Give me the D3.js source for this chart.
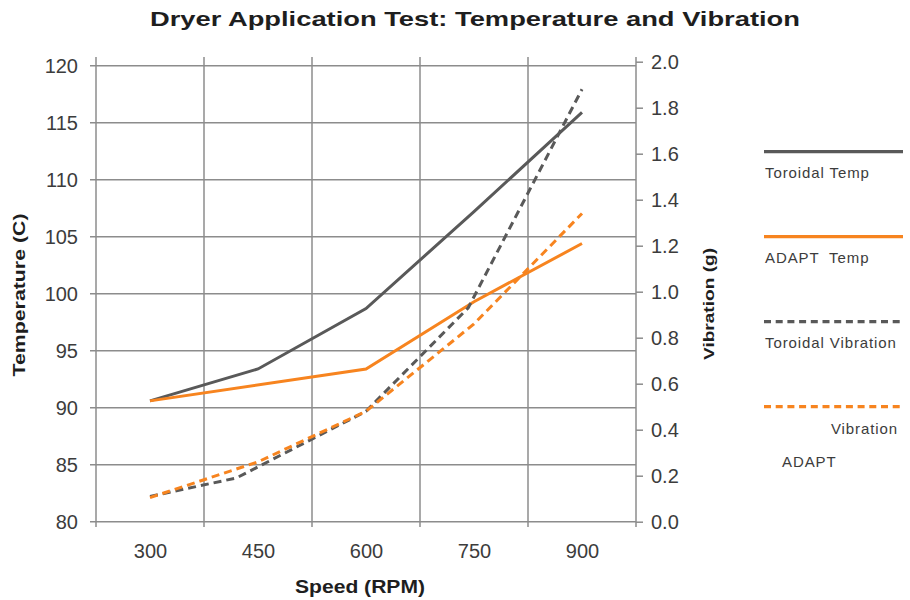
<!DOCTYPE html>
<html>
<head>
<meta charset="utf-8">
<script src="https://cdn.jsdelivr.net/npm/d3@7"></script>
<style>
  body { margin: 0; background: #fff; }
  text { font-family: "Liberation Sans", Arial, sans-serif; }
</style>
</head>
<body>
<div id="chart"></div>
<script>
/********************************************************/
// Chart data
const speedTicks = [300, 450, 600, 750, 900];
const tempTicks = [80, 85, 90, 95, 100, 105, 110, 115, 120];
const vibTicks = [0, 0.2, 0.4, 0.6, 0.8, 1.0, 1.2, 1.4, 1.6, 1.8, 2.0];

const toroidalTempRpm = [300, 450, 600, 750, 900];
const toroidalTemp = [90.6, 93.4, 98.7, 107.2, 115.9];

const adaptTempRpm = [300, 600, 750, 900];
const adaptTemp = [90.6, 93.4, 99.3, 104.4];

const toroidalVibRpm = [300, 420, 600, 742, 900];
const toroidalVib = [0.11, 0.19, 0.48, 0.93, 1.88];

const adaptVibRpm = [300, 450, 600, 750, 900];
const adaptVib = [0.105, 0.26, 0.48, 0.86, 1.34];
/********************************************************/
const svgWidth = 910;
const svgHeight = 600;

const plot = { left: 96, right: 636, top: 65.7, bottom: 521.7 };
const gray = "#595959";
const orange = "#f7841f";
const gridColor = "#8c8c8c";
const textColor = "#3c3c3c";
const heavyFont = "DejaVu Sans, Arial, sans-serif";

const svg = d3.select("#chart").append("svg").attr("width", svgWidth).attr("height", svgHeight);

// scales
const x = d3.scaleLinear().domain([225, 975]).range([plot.left, plot.right]);
const yTemp = d3.scaleLinear().domain([80, 120]).range([plot.bottom, plot.top]);
const yVib = d3.scaleLinear().domain([0, 2]).range([plot.bottom, 61.7]);

/********************************************************/
// grid
const grid = svg.append("g");
const xGrid = d3.range(225, 976, 150);
grid.selectAll(".vgrid")
  .data(xGrid)
  .enter()
  .append("line")
  .attr("x1", (d) => x(d))
  .attr("x2", (d) => x(d))
  .attr("y1", 57)
  .attr("y2", 527)
  .attr("stroke", gridColor)
  .attr("stroke-width", 1.5);

grid.selectAll(".hgrid")
  .data(tempTicks)
  .enter()
  .append("line")
  .attr("x1", plot.left - 6)
  .attr("x2", plot.right)
  .attr("y1", (d) => yTemp(d))
  .attr("y2", (d) => yTemp(d))
  .attr("stroke", gridColor)
  .attr("stroke-width", 1.5);

// left axis labels
const leftAxis = d3.axisLeft(yTemp).tickValues(tempTicks).tickSize(0).tickPadding(18);
svg.append("g")
  .attr("transform", `translate(${plot.left}, 0)`)
  .call(leftAxis)
  .call((g) => g.select(".domain").remove())
  .selectAll("text")
  .attr("font-size", "20px")
  .attr("font-family", "Liberation Sans, Arial, sans-serif")
  .attr("fill", textColor);

// right axis
const rightAxis = d3.axisRight(yVib).tickValues(vibTicks).tickSize(7).tickPadding(8).tickFormat(d3.format(".1f"));
const rg = svg.append("g")
  .attr("transform", `translate(${plot.right}, 0)`)
  .call(rightAxis);
rg.select(".domain").remove();
rg.selectAll("line").attr("stroke", gridColor).attr("stroke-width", 1.5);
rg.selectAll("text")
  .attr("font-size", "20px")
  .attr("font-family", "Liberation Sans, Arial, sans-serif")
  .attr("fill", textColor);

// bottom axis labels
const bottomAxis = d3.axisBottom(x).tickValues(speedTicks).tickSize(0).tickPadding(22);
svg.append("g")
  .attr("transform", `translate(0, ${plot.bottom})`)
  .call(bottomAxis)
  .call((g) => g.select(".domain").remove())
  .selectAll("text")
  .attr("font-size", "20px")
  .attr("font-family", "Liberation Sans, Arial, sans-serif")
  .attr("fill", textColor);

/********************************************************/
// series
const series = [
  { name: "Toroidal Temp", rpm: toroidalTempRpm, vals: toroidalTemp, y: yTemp, color: gray, dash: null },
  { name: "ADAPT Temp", rpm: adaptTempRpm, vals: adaptTemp, y: yTemp, color: orange, dash: null },
  { name: "Toroidal Vibration", rpm: toroidalVibRpm, vals: toroidalVib, y: yVib, color: gray, dash: "8,5" },
  { name: "ADAPT Vibration", rpm: adaptVibRpm, vals: adaptVib, y: yVib, color: orange, dash: "8,5" },
];

series.forEach((s) => {
  const line = d3.line()
    .x((d, i) => x(s.rpm[i]))
    .y((d) => s.y(d));
  svg.append("path")
    .datum(s.vals)
    .attr("d", line)
    .attr("fill", "none")
    .attr("stroke", s.color)
    .attr("stroke-width", 3)
    .attr("stroke-dasharray", s.dash);
});

/********************************************************/
// legend
const legendRows = [
  { y: 151.7, color: gray, dash: null },
  { y: 236.7, color: orange, dash: null },
  { y: 321.7, color: gray, dash: "7,4.7" },
  { y: 406.7, color: orange, dash: "7,4.7" },
];
const legend = svg.append("g");
legend.selectAll("line")
  .data(legendRows)
  .enter()
  .append("line")
  .attr("x1", 764)
  .attr("x2", 903)
  .attr("y1", (d) => d.y)
  .attr("y2", (d) => d.y)
  .attr("stroke", (d) => d.color)
  .attr("stroke-width", 3.3)
  .attr("stroke-dasharray", (d) => d.dash);

const legendText = [
  { t: "Toroidal Temp", x: 765, y: 178, anchor: "start" },
  { t: "ADAPT  Temp", x: 765, y: 263, anchor: "start" },
  { t: "Toroidal Vibration", x: 765, y: 348, anchor: "start" },
  { t: "Vibration", x: 898, y: 434, anchor: "end" },
  { t: "ADAPT", x: 782, y: 467, anchor: "start" },
];
legend.selectAll("text")
  .data(legendText)
  .enter()
  .append("text")
  .attr("x", (d) => d.x)
  .attr("y", (d) => d.y)
  .attr("text-anchor", (d) => d.anchor)
  .attr("font-size", "15px")
  .attr("letter-spacing", "0.9px")
  .attr("fill", textColor)
  .style("white-space", "pre")
  .text((d) => d.t);

/********************************************************/
// titles
svg.append("text")
  .attr("x", 475)
  .attr("y", 26)
  .attr("text-anchor", "middle")
  .attr("font-family", heavyFont)
  .attr("font-size", "21px")
  .attr("font-weight", "bold")
  .attr("textLength", 650)
  .attr("lengthAdjust", "spacingAndGlyphs")
  .attr("fill", "#1e1e1e")
  .text("Dryer Application Test: Temperature and Vibration");

svg.append("text")
  .attr("transform", "translate(25, 295) rotate(-90)")
  .attr("text-anchor", "middle")
  .attr("font-family", heavyFont)
  .attr("font-size", "16.5px")
  .attr("font-weight", "bold")
  .attr("textLength", 163)
  .attr("lengthAdjust", "spacingAndGlyphs")
  .attr("fill", "#1e1e1e")
  .text("Temperature (C)");

svg.append("text")
  .attr("transform", "translate(714, 304) rotate(-90)")
  .attr("text-anchor", "middle")
  .attr("font-family", heavyFont)
  .attr("font-size", "15px")
  .attr("font-weight", "bold")
  .attr("textLength", 112)
  .attr("lengthAdjust", "spacingAndGlyphs")
  .attr("fill", "#1e1e1e")
  .text("Vibration (g)");

svg.append("text")
  .attr("x", 360)
  .attr("y", 593)
  .attr("text-anchor", "middle")
  .attr("font-family", heavyFont)
  .attr("font-size", "17.5px")
  .attr("font-weight", "bold")
  .attr("textLength", 130)
  .attr("lengthAdjust", "spacingAndGlyphs")
  .attr("fill", "#1e1e1e")
  .text("Speed (RPM)");
</script>
</body>
</html>
